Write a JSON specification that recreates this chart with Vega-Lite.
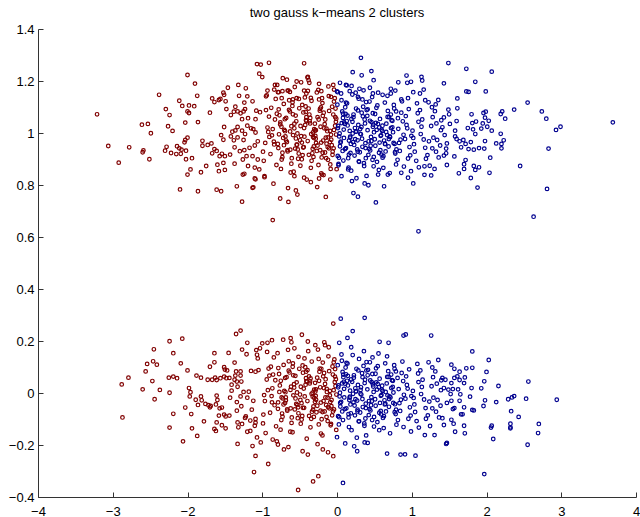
{
"$schema": "https://vega.github.io/schema/vega-lite/v6.json",
"width": 598, "height": 468,
"autosize": "none",
"padding": {"left": 38, "top": 29, "right": 4, "bottom": 20},
"background": "white",
"title": {"text": "two gauss k\u2212means 2 clusters", "font": "Liberation Sans", "fontSize": 13, "fontWeight": "normal", "color": "#000000", "offset": 3},
"config": {"view": {"stroke": null}},
"data": {"values": [
{"x":-3.21,"y":1.072,"cluster":1},{"x":-3.06,"y":0.95,"cluster":1},{"x":-2.92,"y":0.886,"cluster":1},{"x":-2.78,"y":0.945,"cluster":1},{"x":-2.59,"y":0.933,"cluster":1},{"x":-2.6,"y":0.926,"cluster":1},{"x":-2.61,"y":1.032,"cluster":1},{"x":-2.53,"y":1.035,"cluster":1},{"x":-2.49,"y":0.999,"cluster":1},{"x":-2.51,"y":0.899,"cluster":1},{"x":-2.38,"y":1.147,"cluster":1},{"x":-2.29,"y":1.092,"cluster":1},{"x":-2.24,"y":1.069,"cluster":1},{"x":-2.26,"y":1.026,"cluster":1},{"x":-2.2,"y":1.008,"cluster":1},{"x":-2.28,"y":0.947,"cluster":1},{"x":-2.3,"y":0.932,"cluster":1},{"x":-2.22,"y":0.923,"cluster":1},{"x":-2.1,"y":0.783,"cluster":1},{"x":-2.0,"y":1.223,"cluster":1},{"x":-1.9,"y":1.19,"cluster":1},{"x":-1.87,"y":1.143,"cluster":1},{"x":-2.11,"y":1.124,"cluster":1},{"x":-2.07,"y":1.104,"cluster":1},{"x":-1.98,"y":1.106,"cluster":1},{"x":-1.91,"y":1.103,"cluster":1},{"x":-2.0,"y":1.083,"cluster":1},{"x":-1.98,"y":1.077,"cluster":1},{"x":-1.86,"y":1.042,"cluster":1},{"x":-2.03,"y":1.04,"cluster":1},{"x":-2.0,"y":0.982,"cluster":1},{"x":-2.03,"y":0.973,"cluster":1},{"x":-2.04,"y":0.964,"cluster":1},{"x":-2.14,"y":0.949,"cluster":1},{"x":-2.11,"y":0.941,"cluster":1},{"x":-2.08,"y":0.936,"cluster":1},{"x":-2.15,"y":0.919,"cluster":1},{"x":-2.09,"y":0.92,"cluster":1},{"x":-2.02,"y":0.932,"cluster":1},{"x":-2.02,"y":0.899,"cluster":1},{"x":-1.94,"y":0.903,"cluster":1},{"x":-1.96,"y":0.86,"cluster":1},{"x":-2.0,"y":0.84,"cluster":1},{"x":-1.86,"y":0.776,"cluster":1},{"x":-1.82,"y":0.849,"cluster":1},{"x":-1.75,"y":0.873,"cluster":1},{"x":-1.7,"y":1.078,"cluster":1},{"x":-1.67,"y":1.133,"cluster":1},{"x":-1.64,"y":1.119,"cluster":1},{"x":-1.58,"y":1.127,"cluster":1},{"x":-1.56,"y":1.131,"cluster":1},{"x":-1.49,"y":1.122,"cluster":1},{"x":-1.52,"y":1.155,"cluster":1},{"x":-1.51,"y":1.147,"cluster":1},{"x":-1.46,"y":1.174,"cluster":1},{"x":-1.32,"y":1.185,"cluster":1},{"x":-1.22,"y":1.172,"cluster":1},{"x":-1.31,"y":1.143,"cluster":1},{"x":-1.2,"y":1.141,"cluster":1},{"x":-1.07,"y":1.265,"cluster":1},{"x":-1.02,"y":1.263,"cluster":1},{"x":-1.04,"y":1.228,"cluster":1},{"x":-1.24,"y":1.117,"cluster":1},{"x":-1.13,"y":1.122,"cluster":1},{"x":-1.8,"y":0.97,"cluster":1},{"x":-1.8,"y":0.951,"cluster":1},{"x":-1.73,"y":0.954,"cluster":1},{"x":-1.68,"y":0.96,"cluster":1},{"x":-1.64,"y":0.938,"cluster":1},{"x":-1.67,"y":0.922,"cluster":1},{"x":-1.61,"y":0.931,"cluster":1},{"x":-1.54,"y":0.92,"cluster":1},{"x":-1.57,"y":0.911,"cluster":1},{"x":-1.5,"y":0.911,"cluster":1},{"x":-1.43,"y":0.917,"cluster":1},{"x":-1.52,"y":0.885,"cluster":1},{"x":-1.6,"y":0.878,"cluster":1},{"x":-1.58,"y":0.853,"cluster":1},{"x":-1.5,"y":0.858,"cluster":1},{"x":-1.37,"y":0.882,"cluster":1},{"x":-1.61,"y":0.782,"cluster":1},{"x":-1.55,"y":0.776,"cluster":1},{"x":-1.34,"y":0.795,"cluster":1},{"x":-1.27,"y":0.736,"cluster":1},{"x":-1.12,"y":0.791,"cluster":1},{"x":-1.24,"y":0.843,"cluster":1},{"x":-1.09,"y":0.822,"cluster":1},{"x":-1.51,"y":1.023,"cluster":1},{"x":-1.55,"y":0.992,"cluster":1},{"x":-1.52,"y":0.974,"cluster":1},{"x":-0.86,"y":0.665,"cluster":1},
{"x":-1.42,"y":0.987,"cluster":1},{"x":-1.4,"y":1.005,"cluster":1},{"x":-1.36,"y":1.01,"cluster":1},{"x":-1.33,"y":1.023,"cluster":1},{"x":-1.38,"y":0.972,"cluster":1},{"x":-1.33,"y":0.983,"cluster":1},{"x":-1.27,"y":1.009,"cluster":1},{"x":-1.23,"y":0.996,"cluster":1},{"x":-1.25,"y":0.973,"cluster":1},{"x":-1.2,"y":1.028,"cluster":1},{"x":-1.15,"y":1.018,"cluster":1},{"x":-1.12,"y":1.015,"cluster":1},{"x":-1.09,"y":1.002,"cluster":1},{"x":-1.19,"y":1.057,"cluster":1},{"x":-1.27,"y":1.053,"cluster":1},{"x":-1.25,"y":1.083,"cluster":1},{"x":-1.09,"y":1.053,"cluster":1},{"x":-1.48,"y":1.092,"cluster":1},{"x":-1.36,"y":1.101,"cluster":1},{"x":-1.33,"y":1.083,"cluster":1},{"x":-1.29,"y":1.076,"cluster":1},{"x":-1.42,"y":1.069,"cluster":1},{"x":-1.38,"y":1.082,"cluster":1},{"x":-1.23,"y":1.092,"cluster":1},{"x":-1.08,"y":1.086,"cluster":1},{"x":-1.03,"y":1.08,"cluster":1},{"x":-1.37,"y":0.945,"cluster":1},{"x":-1.3,"y":0.93,"cluster":1},{"x":-1.24,"y":0.934,"cluster":1},{"x":-1.17,"y":0.943,"cluster":1},{"x":-1.1,"y":0.952,"cluster":1},{"x":-1.06,"y":0.968,"cluster":1},{"x":-1.21,"y":0.911,"cluster":1},{"x":-1.26,"y":0.898,"cluster":1},{"x":-1.13,"y":0.911,"cluster":1},{"x":-1.19,"y":0.873,"cluster":1},{"x":-1.1,"y":0.867,"cluster":1},{"x":-1.06,"y":0.898,"cluster":1},{"x":-1.04,"y":0.86,"cluster":1},{"x":-1.26,"y":0.84,"cluster":1},
{"x":-0.91,"y":1.27,"cluster":1},{"x":-1.0,"y":1.215,"cluster":1},{"x":-0.67,"y":1.205,"cluster":1},{"x":-0.54,"y":1.198,"cluster":1},{"x":-0.48,"y":1.195,"cluster":1},{"x":-0.44,"y":1.268,"cluster":1},{"x":-0.39,"y":1.216,"cluster":1},{"x":-0.38,"y":1.203,"cluster":1},{"x":-0.37,"y":1.193,"cluster":1},{"x":-0.24,"y":1.189,"cluster":1},{"x":-0.05,"y":1.185,"cluster":1},{"x":-0.04,"y":1.167,"cluster":1},{"x":-0.93,"y":1.163,"cluster":1},{"x":-0.95,"y":1.141,"cluster":1},{"x":-0.83,"y":1.185,"cluster":1},{"x":-0.8,"y":1.185,"cluster":1},{"x":-0.84,"y":1.167,"cluster":1},{"x":-0.78,"y":1.157,"cluster":1},{"x":-0.73,"y":1.161,"cluster":1},{"x":-0.66,"y":1.163,"cluster":1},{"x":-0.63,"y":1.158,"cluster":1},{"x":-0.74,"y":1.134,"cluster":1},{"x":-0.59,"y":1.129,"cluster":1},{"x":-0.54,"y":1.134,"cluster":1},{"x":-0.44,"y":1.163,"cluster":1},{"x":-0.41,"y":1.152,"cluster":1},{"x":-0.35,"y":1.135,"cluster":1},{"x":-0.27,"y":1.156,"cluster":1},{"x":-0.21,"y":1.161,"cluster":1},{"x":-0.2,"y":1.134,"cluster":1},{"x":-0.08,"y":1.139,"cluster":1},
{"x":-0.76,"y":0.748,"cluster":1},{"x":-0.65,"y":0.735,"cluster":1},{"x":-0.55,"y":0.779,"cluster":1},{"x":-0.53,"y":0.763,"cluster":1},{"x":-0.15,"y":0.754,"cluster":1},{"x":-0.57,"y":0.834,"cluster":1},{"x":-0.44,"y":0.828,"cluster":1},{"x":-0.35,"y":0.811,"cluster":1},{"x":-0.24,"y":0.825,"cluster":1},{"x":-0.2,"y":0.84,"cluster":1},{"x":-0.09,"y":0.821,"cluster":1},{"x":-1.1,"y":0.825,"cluster":1},{"x":-0.97,"y":0.83,"cluster":1},{"x":-1.13,"y":0.789,"cluster":1},
{"x":-0.93,"y":1.021,"cluster":1},{"x":-0.98,"y":0.893,"cluster":1},{"x":-0.91,"y":1.063,"cluster":1},{"x":-0.96,"y":0.962,"cluster":1},{"x":-0.94,"y":1.145,"cluster":1},{"x":-0.99,"y":0.928,"cluster":1},{"x":-0.92,"y":1.004,"cluster":1},{"x":-0.97,"y":0.834,"cluster":1},{"x":-0.95,"y":1.088,"cluster":1},{"x":-0.905,"y":0.985,"cluster":1},
{"x":-0.84,"y":0.956,"cluster":1},{"x":-0.88,"y":1.097,"cluster":1},{"x":-0.81,"y":0.877,"cluster":1},{"x":-0.86,"y":1.015,"cluster":1},{"x":-0.83,"y":1.052,"cluster":1},{"x":-0.89,"y":0.919,"cluster":1},{"x":-0.82,"y":1.131,"cluster":1},{"x":-0.87,"y":0.991,"cluster":1},{"x":-0.85,"y":0.805,"cluster":1},{"x":-0.805,"y":1.074,"cluster":1},{"x":-0.845,"y":0.967,"cluster":1},
{"x":-0.77,"y":1.068,"cluster":1},{"x":-0.72,"y":0.981,"cluster":1},{"x":-0.79,"y":1.157,"cluster":1},{"x":-0.74,"y":0.898,"cluster":1},{"x":-0.71,"y":0.953,"cluster":1},{"x":-0.76,"y":1.033,"cluster":1},{"x":-0.73,"y":0.924,"cluster":1},{"x":-0.78,"y":1.091,"cluster":1},{"x":-0.705,"y":1.012,"cluster":1},{"x":-0.75,"y":0.862,"cluster":1},{"x":-0.725,"y":1.211,"cluster":1},{"x":-0.785,"y":0.942,"cluster":1},
{"x":-0.66,"y":0.929,"cluster":1},{"x":-0.61,"y":1.026,"cluster":1},{"x":-0.69,"y":0.987,"cluster":1},{"x":-0.64,"y":1.126,"cluster":1},{"x":-0.62,"y":0.848,"cluster":1},{"x":-0.68,"y":1.058,"cluster":1},{"x":-0.63,"y":1.083,"cluster":1},{"x":-0.67,"y":0.965,"cluster":1},{"x":-0.605,"y":0.903,"cluster":1},{"x":-0.65,"y":1.163,"cluster":1},{"x":-0.695,"y":1.007,"cluster":1},{"x":-0.625,"y":0.936,"cluster":1},{"x":-0.655,"y":0.788,"cluster":1},
{"x":-0.57,"y":1.036,"cluster":1},{"x":-0.52,"y":0.901,"cluster":1},{"x":-0.59,"y":1.072,"cluster":1},{"x":-0.54,"y":0.955,"cluster":1},{"x":-0.51,"y":1.131,"cluster":1},{"x":-0.56,"y":0.94,"cluster":1},{"x":-0.53,"y":0.998,"cluster":1},{"x":-0.58,"y":0.851,"cluster":1},{"x":-0.505,"y":1.095,"cluster":1},{"x":-0.55,"y":0.979,"cluster":1},{"x":-0.595,"y":1.118,"cluster":1},{"x":-0.525,"y":0.937,"cluster":1},{"x":-0.565,"y":1.177,"cluster":1},{"x":-0.545,"y":1.045,"cluster":1},
{"x":-0.47,"y":0.963,"cluster":1},{"x":-0.42,"y":1.102,"cluster":1},{"x":-0.49,"y":0.874,"cluster":1},{"x":-0.44,"y":1.019,"cluster":1},{"x":-0.41,"y":1.061,"cluster":1},{"x":-0.46,"y":0.915,"cluster":1},{"x":-0.43,"y":1.137,"cluster":1},{"x":-0.48,"y":0.988,"cluster":1},{"x":-0.405,"y":0.821,"cluster":1},{"x":-0.45,"y":1.079,"cluster":1},{"x":-0.495,"y":0.972,"cluster":1},{"x":-0.425,"y":1.031,"cluster":1},{"x":-0.465,"y":1.108,"cluster":1},{"x":-0.445,"y":0.946,"cluster":1},{"x":-0.415,"y":1.049,"cluster":1},
{"x":-0.37,"y":1.071,"cluster":1},{"x":-0.32,"y":0.985,"cluster":1},{"x":-0.39,"y":1.162,"cluster":1},{"x":-0.34,"y":0.893,"cluster":1},{"x":-0.31,"y":0.948,"cluster":1},{"x":-0.36,"y":1.037,"cluster":1},{"x":-0.33,"y":0.922,"cluster":1},{"x":-0.38,"y":1.094,"cluster":1},{"x":-0.305,"y":1.015,"cluster":1},{"x":-0.35,"y":0.866,"cluster":1},{"x":-0.395,"y":1.213,"cluster":1},{"x":-0.325,"y":0.939,"cluster":1},{"x":-0.365,"y":1.045,"cluster":1},{"x":-0.345,"y":0.996,"cluster":1},{"x":-0.315,"y":0.908,"cluster":1},
{"x":-0.27,"y":0.931,"cluster":1},{"x":-0.22,"y":1.024,"cluster":1},{"x":-0.29,"y":0.989,"cluster":1},{"x":-0.24,"y":1.129,"cluster":1},{"x":-0.21,"y":0.845,"cluster":1},{"x":-0.26,"y":1.061,"cluster":1},{"x":-0.23,"y":1.086,"cluster":1},{"x":-0.28,"y":0.962,"cluster":1},{"x":-0.205,"y":0.906,"cluster":1},{"x":-0.25,"y":1.166,"cluster":1},{"x":-0.295,"y":1.009,"cluster":1},{"x":-0.225,"y":0.934,"cluster":1},{"x":-0.265,"y":0.792,"cluster":1},{"x":-0.245,"y":1.052,"cluster":1},{"x":-0.215,"y":1.098,"cluster":1},{"x":-0.285,"y":0.978,"cluster":1},
{"x":-0.17,"y":1.018,"cluster":1},{"x":-0.12,"y":0.897,"cluster":1},{"x":-0.19,"y":1.066,"cluster":1},{"x":-0.14,"y":0.959,"cluster":1},{"x":-0.11,"y":1.142,"cluster":1},{"x":-0.16,"y":0.925,"cluster":1},{"x":-0.13,"y":1.007,"cluster":1},{"x":-0.18,"y":0.838,"cluster":1},{"x":-0.105,"y":1.085,"cluster":1},{"x":-0.15,"y":0.982,"cluster":1},{"x":-0.195,"y":1.115,"cluster":1},{"x":-0.125,"y":0.946,"cluster":1},{"x":-0.165,"y":1.034,"cluster":1},{"x":-0.145,"y":0.903,"cluster":1},{"x":-0.115,"y":1.179,"cluster":1},{"x":-0.185,"y":0.971,"cluster":1},
{"x":-0.07,"y":0.953,"cluster":1},{"x":-0.02,"y":1.094,"cluster":1},{"x":-0.09,"y":0.879,"cluster":1},{"x":-0.04,"y":1.012,"cluster":1},{"x":-0.01,"y":1.055,"cluster":1},{"x":-0.06,"y":0.916,"cluster":1},{"x":-0.03,"y":1.134,"cluster":1},{"x":-0.08,"y":0.993,"cluster":1},{"x":-0.005,"y":0.861,"cluster":1},{"x":-0.05,"y":1.071,"cluster":1},{"x":-0.095,"y":0.965,"cluster":1},{"x":-0.025,"y":1.028,"cluster":1},{"x":-0.065,"y":1.101,"cluster":1},{"x":-0.045,"y":0.941,"cluster":1},{"x":-0.015,"y":1.043,"cluster":1},{"x":-0.085,"y":0.862,"cluster":1},
{"x":-0.792,"y":0.958,"cluster":1},{"x":-0.758,"y":1.041,"cluster":1},{"x":-0.731,"y":0.907,"cluster":1},{"x":-0.712,"y":1.112,"cluster":1},{"x":-0.776,"y":0.995,"cluster":1},{"x":-0.744,"y":1.024,"cluster":1},
{"x":-0.698,"y":1.053,"cluster":1},{"x":-0.663,"y":0.934,"cluster":1},{"x":-0.627,"y":1.006,"cluster":1},{"x":-0.681,"y":0.971,"cluster":1},{"x":-0.642,"y":1.089,"cluster":1},{"x":-0.611,"y":0.882,"cluster":1},
{"x":-0.588,"y":0.992,"cluster":1},{"x":-0.553,"y":1.067,"cluster":1},{"x":-0.512,"y":0.921,"cluster":1},{"x":-0.571,"y":1.018,"cluster":1},{"x":-0.534,"y":0.955,"cluster":1},{"x":-0.597,"y":1.104,"cluster":1},
{"x":-0.488,"y":1.027,"cluster":1},{"x":-0.452,"y":0.944,"cluster":1},{"x":-0.418,"y":1.081,"cluster":1},{"x":-0.471,"y":0.899,"cluster":1},{"x":-0.436,"y":0.986,"cluster":1},{"x":-0.409,"y":1.046,"cluster":1},
{"x":-0.392,"y":0.969,"cluster":1},{"x":-0.358,"y":1.058,"cluster":1},{"x":-0.322,"y":1.002,"cluster":1},{"x":-0.377,"y":0.916,"cluster":1},{"x":-0.341,"y":1.124,"cluster":1},{"x":-0.309,"y":0.981,"cluster":1},
{"x":-0.296,"y":1.036,"cluster":1},{"x":-0.261,"y":0.952,"cluster":1},{"x":-0.227,"y":1.093,"cluster":1},{"x":-0.283,"y":1.011,"cluster":1},{"x":-0.248,"y":0.877,"cluster":1},{"x":-0.212,"y":0.963,"cluster":1},
{"x":-0.191,"y":0.924,"cluster":1},{"x":-0.157,"y":1.052,"cluster":1},{"x":-0.123,"y":0.983,"cluster":1},{"x":-0.178,"y":1.078,"cluster":1},{"x":-0.141,"y":1.017,"cluster":1},{"x":-0.108,"y":0.941,"cluster":1},
{"x":-0.092,"y":1.008,"cluster":1},{"x":-0.058,"y":0.929,"cluster":1},{"x":-0.023,"y":1.061,"cluster":1},{"x":-0.077,"y":0.974,"cluster":1},{"x":-0.041,"y":1.121,"cluster":1},{"x":-0.012,"y":0.994,"cluster":1},
{"x":0.012,"y":1.019,"cluster":2},{"x":0.047,"y":0.963,"cluster":2},{"x":0.081,"y":1.074,"cluster":2},{"x":0.026,"y":0.905,"cluster":2},{"x":0.063,"y":1.038,"cluster":2},{"x":0.093,"y":0.981,"cluster":2},
{"x":0.108,"y":0.938,"cluster":2},{"x":0.142,"y":1.029,"cluster":2},{"x":0.177,"y":0.986,"cluster":2},{"x":0.121,"y":1.117,"cluster":2},{"x":0.159,"y":0.917,"cluster":2},{"x":0.193,"y":1.054,"cluster":2},
{"x":0.207,"y":1.043,"cluster":2},{"x":0.243,"y":0.976,"cluster":2},{"x":0.278,"y":0.928,"cluster":2},{"x":0.221,"y":1.071,"cluster":2},{"x":0.259,"y":1.006,"cluster":2},{"x":0.292,"y":0.891,"cluster":2},
{"x":0.311,"y":0.997,"cluster":2},{"x":0.346,"y":1.064,"cluster":2},{"x":0.382,"y":0.942,"cluster":2},{"x":0.327,"y":1.023,"cluster":2},{"x":0.363,"y":0.873,"cluster":2},{"x":0.397,"y":1.088,"cluster":2},
{"x":0.409,"y":1.011,"cluster":2},{"x":0.444,"y":0.933,"cluster":2},{"x":0.479,"y":1.076,"cluster":2},{"x":0.423,"y":0.968,"cluster":2},{"x":0.461,"y":1.042,"cluster":2},{"x":0.492,"y":0.908,"cluster":2},
{"x":0.513,"y":0.951,"cluster":2},{"x":0.548,"y":1.035,"cluster":2},{"x":0.583,"y":0.989,"cluster":2},{"x":0.527,"y":1.097,"cluster":2},{"x":0.562,"y":0.924,"cluster":2},{"x":0.597,"y":1.013,"cluster":2},
{"x":0.608,"y":1.028,"cluster":2},{"x":0.642,"y":0.959,"cluster":2},{"x":0.677,"y":1.062,"cluster":2},{"x":0.621,"y":0.911,"cluster":2},{"x":0.658,"y":1.004,"cluster":2},{"x":0.694,"y":0.977,"cluster":2},
{"x":0.706,"y":0.987,"cluster":2},{"x":0.741,"y":1.047,"cluster":2},{"x":0.776,"y":0.926,"cluster":2},{"x":0.722,"y":1.019,"cluster":2},{"x":0.757,"y":0.962,"cluster":2},{"x":0.791,"y":1.083,"cluster":2},
{"x":0.03,"y":0.987,"cluster":2},{"x":0.08,"y":1.058,"cluster":2},{"x":0.01,"y":0.912,"cluster":2},{"x":0.06,"y":1.126,"cluster":2},{"x":0.09,"y":1.013,"cluster":2},{"x":0.04,"y":0.949,"cluster":2},{"x":0.07,"y":1.083,"cluster":2},{"x":0.02,"y":0.876,"cluster":2},{"x":0.095,"y":1.041,"cluster":2},{"x":0.05,"y":0.967,"cluster":2},{"x":0.005,"y":1.109,"cluster":2},{"x":0.075,"y":0.931,"cluster":2},{"x":0.035,"y":0.998,"cluster":2},{"x":0.055,"y":1.152,"cluster":2},{"x":0.085,"y":0.894,"cluster":2},{"x":0.015,"y":1.027,"cluster":2},
{"x":0.13,"y":1.046,"cluster":2},{"x":0.18,"y":0.923,"cluster":2},{"x":0.11,"y":1.099,"cluster":2},{"x":0.16,"y":0.971,"cluster":2},{"x":0.19,"y":0.855,"cluster":2},{"x":0.14,"y":1.067,"cluster":2},{"x":0.17,"y":1.008,"cluster":2},{"x":0.12,"y":0.942,"cluster":2},{"x":0.195,"y":1.181,"cluster":2},{"x":0.15,"y":0.903,"cluster":2},{"x":0.105,"y":1.035,"cluster":2},{"x":0.175,"y":0.982,"cluster":2},{"x":0.135,"y":1.114,"cluster":2},{"x":0.155,"y":0.867,"cluster":2},{"x":0.185,"y":0.958,"cluster":2},{"x":0.115,"y":1.073,"cluster":2},
{"x":0.23,"y":0.954,"cluster":2},{"x":0.28,"y":1.087,"cluster":2},{"x":0.21,"y":0.998,"cluster":2},{"x":0.26,"y":0.826,"cluster":2},{"x":0.29,"y":1.132,"cluster":2},{"x":0.24,"y":1.019,"cluster":2},{"x":0.27,"y":0.937,"cluster":2},{"x":0.22,"y":1.061,"cluster":2},{"x":0.295,"y":0.889,"cluster":2},{"x":0.25,"y":1.005,"cluster":2},{"x":0.205,"y":1.148,"cluster":2},{"x":0.275,"y":0.972,"cluster":2},{"x":0.235,"y":0.913,"cluster":2},{"x":0.255,"y":1.094,"cluster":2},{"x":0.285,"y":1.031,"cluster":2},{"x":0.215,"y":0.965,"cluster":2},
{"x":0.33,"y":1.078,"cluster":2},{"x":0.38,"y":0.961,"cluster":2},{"x":0.31,"y":1.015,"cluster":2},{"x":0.36,"y":0.884,"cluster":2},{"x":0.39,"y":1.119,"cluster":2},{"x":0.34,"y":0.947,"cluster":2},{"x":0.37,"y":1.052,"cluster":2},{"x":0.32,"y":0.995,"cluster":2},{"x":0.395,"y":0.835,"cluster":2},{"x":0.35,"y":1.101,"cluster":2},{"x":0.305,"y":0.926,"cluster":2},{"x":0.375,"y":1.037,"cluster":2},{"x":0.335,"y":0.978,"cluster":2},{"x":0.355,"y":1.164,"cluster":2},{"x":0.385,"y":0.903,"cluster":2},
{"x":0.43,"y":0.939,"cluster":2},{"x":0.48,"y":1.024,"cluster":2},{"x":0.41,"y":1.091,"cluster":2},{"x":0.46,"y":0.969,"cluster":2},{"x":0.49,"y":0.872,"cluster":2},{"x":0.44,"y":1.047,"cluster":2},{"x":0.47,"y":1.138,"cluster":2},{"x":0.42,"y":0.916,"cluster":2},{"x":0.495,"y":1.003,"cluster":2},{"x":0.45,"y":0.951,"cluster":2},{"x":0.405,"y":1.066,"cluster":2},{"x":0.475,"y":0.897,"cluster":2},{"x":0.435,"y":1.121,"cluster":2},{"x":0.455,"y":0.985,"cluster":2},{"x":0.485,"y":1.032,"cluster":2},
{"x":0.53,"y":1.012,"cluster":2},{"x":0.58,"y":0.934,"cluster":2},{"x":0.51,"y":1.073,"cluster":2},{"x":0.56,"y":0.858,"cluster":2},{"x":0.59,"y":0.991,"cluster":2},{"x":0.54,"y":1.106,"cluster":2},{"x":0.57,"y":0.963,"cluster":2},{"x":0.52,"y":1.039,"cluster":2},{"x":0.595,"y":0.917,"cluster":2},{"x":0.55,"y":1.155,"cluster":2},{"x":0.505,"y":0.976,"cluster":2},{"x":0.575,"y":1.054,"cluster":2},{"x":0.535,"y":0.889,"cluster":2},{"x":0.565,"y":1.021,"cluster":2},
{"x":0.63,"y":0.971,"cluster":2},{"x":0.68,"y":1.085,"cluster":2},{"x":0.61,"y":0.905,"cluster":2},{"x":0.66,"y":1.036,"cluster":2},{"x":0.69,"y":0.948,"cluster":2},{"x":0.64,"y":1.117,"cluster":2},{"x":0.67,"y":0.992,"cluster":2},{"x":0.62,"y":0.866,"cluster":2},{"x":0.695,"y":1.061,"cluster":2},{"x":0.65,"y":0.929,"cluster":2},{"x":0.605,"y":1.008,"cluster":2},{"x":0.675,"y":1.143,"cluster":2},{"x":0.645,"y":0.957,"cluster":2},
{"x":0.73,"y":1.049,"cluster":2},{"x":0.78,"y":0.921,"cluster":2},{"x":0.71,"y":0.984,"cluster":2},{"x":0.76,"y":1.108,"cluster":2},{"x":0.79,"y":0.879,"cluster":2},{"x":0.74,"y":1.022,"cluster":2},{"x":0.77,"y":0.958,"cluster":2},{"x":0.72,"y":1.071,"cluster":2},{"x":0.795,"y":0.937,"cluster":2},{"x":0.75,"y":1.003,"cluster":2},{"x":0.705,"y":0.846,"cluster":2},{"x":0.765,"y":1.094,"cluster":2},
{"x":0.83,"y":0.962,"cluster":2},{"x":0.88,"y":1.045,"cluster":2},{"x":0.81,"y":0.897,"cluster":2},{"x":0.86,"y":1.078,"cluster":2},{"x":0.89,"y":0.993,"cluster":2},{"x":0.84,"y":0.931,"cluster":2},{"x":0.87,"y":1.122,"cluster":2},{"x":0.82,"y":1.016,"cluster":2},{"x":0.895,"y":0.871,"cluster":2},{"x":0.85,"y":0.974,"cluster":2},{"x":0.815,"y":1.057,"cluster":2},
{"x":0.93,"y":1.031,"cluster":2},{"x":0.98,"y":0.914,"cluster":2},{"x":0.91,"y":0.977,"cluster":2},{"x":0.96,"y":1.092,"cluster":2},{"x":0.99,"y":0.853,"cluster":2},{"x":0.94,"y":1.018,"cluster":2},{"x":0.97,"y":0.946,"cluster":2},{"x":0.92,"y":1.065,"cluster":2},{"x":0.995,"y":0.989,"cluster":2},{"x":0.95,"y":0.902,"cluster":2},
{"x":1.03,"y":0.957,"cluster":2},{"x":1.08,"y":1.076,"cluster":2},{"x":1.01,"y":1.009,"cluster":2},{"x":1.06,"y":0.893,"cluster":2},{"x":1.09,"y":1.043,"cluster":2},{"x":1.04,"y":0.928,"cluster":2},{"x":1.07,"y":1.114,"cluster":2},{"x":1.02,"y":0.981,"cluster":2},{"x":1.095,"y":0.868,"cluster":2},
{"x":1.13,"y":1.024,"cluster":2},{"x":1.18,"y":0.943,"cluster":2},{"x":1.11,"y":1.088,"cluster":2},{"x":1.16,"y":0.975,"cluster":2},{"x":1.19,"y":0.901,"cluster":2},{"x":1.14,"y":1.052,"cluster":2},{"x":1.17,"y":0.839,"cluster":2},{"x":1.12,"y":0.996,"cluster":2},
{"x":1.23,"y":0.968,"cluster":2},{"x":1.28,"y":1.061,"cluster":2},{"x":1.21,"y":0.915,"cluster":2},{"x":1.26,"y":1.027,"cluster":2},{"x":1.29,"y":0.982,"cluster":2},{"x":1.24,"y":0.874,"cluster":2},{"x":1.27,"y":1.099,"cluster":2},
{"x":1.33,"y":1.037,"cluster":2},{"x":1.38,"y":0.952,"cluster":2},{"x":1.31,"y":1.084,"cluster":2},{"x":1.36,"y":0.906,"cluster":2},{"x":1.39,"y":1.011,"cluster":2},{"x":1.34,"y":0.973,"cluster":2},
{"x":1.225,"y":1.118,"cluster":2},{"x":1.305,"y":0.862,"cluster":2},{"x":1.355,"y":1.127,"cluster":2},{"x":1.275,"y":0.941,"cluster":2},{"x":1.395,"y":1.049,"cluster":2},{"x":1.325,"y":0.928,"cluster":2},
{"x":1.49,"y":1.269,"cluster":2},{"x":1.73,"y":1.247,"cluster":2},{"x":2.07,"y":1.236,"cluster":2},{"x":1.43,"y":1.191,"cluster":2},{"x":1.85,"y":1.197,"cluster":2},{"x":1.73,"y":1.16,"cluster":2},{"x":1.76,"y":1.158,"cluster":2},{"x":1.99,"y":1.16,"cluster":2},{"x":1.61,"y":1.133,"cluster":2},{"x":2.55,"y":1.117,"cluster":2},{"x":2.37,"y":1.09,"cluster":2},{"x":2.74,"y":1.083,"cluster":2},{"x":2.8,"y":1.055,"cluster":2},{"x":2.93,"y":1.012,"cluster":2},{"x":2.99,"y":1.024,"cluster":2},{"x":3.69,"y":1.041,"cluster":2},{"x":2.83,"y":0.94,"cluster":2},{"x":2.45,"y":0.873,"cluster":2},{"x":2.81,"y":0.785,"cluster":2},{"x":2.63,"y":0.678,"cluster":2},
{"x":1.49,"y":1.09,"cluster":2},{"x":1.61,"y":1.095,"cluster":2},{"x":1.5,"y":1.072,"cluster":2},{"x":1.8,"y":1.072,"cluster":2},{"x":1.96,"y":1.077,"cluster":2},{"x":1.99,"y":1.082,"cluster":2},{"x":1.98,"y":1.059,"cluster":2},{"x":2.21,"y":1.083,"cluster":2},{"x":2.19,"y":1.073,"cluster":2},{"x":2.25,"y":1.055,"cluster":2},{"x":2.03,"y":1.047,"cluster":2},{"x":1.86,"y":1.044,"cluster":2},{"x":1.81,"y":1.038,"cluster":2},{"x":1.95,"y":1.037,"cluster":2},{"x":2.01,"y":1.024,"cluster":2},{"x":1.6,"y":1.046,"cluster":2},{"x":1.43,"y":1.06,"cluster":2},{"x":1.51,"y":1.035,"cluster":2},{"x":1.41,"y":1.022,"cluster":2},{"x":1.75,"y":1.019,"cluster":2},{"x":1.82,"y":1.014,"cluster":2},{"x":1.93,"y":1.017,"cluster":2},{"x":2.07,"y":1.009,"cluster":2},{"x":1.85,"y":0.996,"cluster":2},{"x":1.58,"y":1.009,"cluster":2},{"x":1.44,"y":0.992,"cluster":2},{"x":1.58,"y":0.987,"cluster":2},{"x":1.6,"y":0.977,"cluster":2},{"x":1.69,"y":0.973,"cluster":2},{"x":1.64,"y":0.968,"cluster":2},{"x":1.72,"y":0.958,"cluster":2},{"x":1.79,"y":0.965,"cluster":2},{"x":1.98,"y":0.969,"cluster":2},{"x":2.19,"y":0.997,"cluster":2},{"x":2.23,"y":0.972,"cluster":2},{"x":2.13,"y":0.96,"cluster":2},{"x":2.2,"y":0.958,"cluster":2},{"x":2.2,"y":0.941,"cluster":2},{"x":1.97,"y":0.94,"cluster":2},{"x":1.9,"y":0.942,"cluster":2},{"x":1.83,"y":0.936,"cluster":2},{"x":1.76,"y":0.938,"cluster":2},{"x":1.66,"y":0.945,"cluster":2},{"x":1.47,"y":0.96,"cluster":2},{"x":1.46,"y":0.94,"cluster":2},{"x":1.46,"y":0.922,"cluster":2},{"x":1.43,"y":0.913,"cluster":2},{"x":1.57,"y":0.91,"cluster":2},{"x":2.05,"y":0.905,"cluster":2},{"x":1.72,"y":0.896,"cluster":2},{"x":1.7,"y":0.88,"cluster":2},{"x":1.7,"y":0.862,"cluster":2},{"x":1.83,"y":0.873,"cluster":2},{"x":1.9,"y":0.868,"cluster":2},{"x":1.85,"y":0.858,"cluster":2},{"x":1.63,"y":0.845,"cluster":2},{"x":1.79,"y":0.827,"cluster":2},{"x":2.04,"y":0.847,"cluster":2},{"x":1.88,"y":0.79,"cluster":2},{"x":1.47,"y":0.877,"cluster":2},
{"x":0.22,"y":0.769,"cluster":2},{"x":0.28,"y":0.755,"cluster":2},{"x":0.52,"y":0.733,"cluster":2},{"x":1.09,"y":0.622,"cluster":2},
{"x":0.32,"y":1.289,"cluster":2},{"x":0.21,"y":1.234,"cluster":2},{"x":0.33,"y":1.222,"cluster":2},{"x":0.46,"y":1.238,"cluster":2},{"x":0.49,"y":1.203,"cluster":2},{"x":0.04,"y":1.193,"cluster":2},{"x":0.12,"y":1.185,"cluster":2},{"x":0.13,"y":1.183,"cluster":2},{"x":0.0,"y":1.16,"cluster":2},{"x":0.01,"y":1.157,"cluster":2},{"x":0.17,"y":1.161,"cluster":2},{"x":0.25,"y":1.155,"cluster":2},{"x":0.3,"y":1.17,"cluster":2},{"x":0.28,"y":1.139,"cluster":2},{"x":0.34,"y":1.129,"cluster":2},{"x":0.44,"y":1.174,"cluster":2},{"x":0.48,"y":1.152,"cluster":2},{"x":0.61,"y":1.147,"cluster":2},{"x":0.72,"y":1.17,"cluster":2},{"x":0.78,"y":1.163,"cluster":2},{"x":0.72,"y":1.152,"cluster":2},{"x":0.82,"y":1.195,"cluster":2},{"x":0.93,"y":1.221,"cluster":2},{"x":0.94,"y":1.193,"cluster":2},{"x":0.99,"y":1.197,"cluster":2},{"x":1.13,"y":1.216,"cluster":2},{"x":1.14,"y":1.202,"cluster":2},{"x":1.16,"y":1.167,"cluster":2},{"x":1.02,"y":1.157,"cluster":2},{"x":1.11,"y":1.152,"cluster":2},{"x":0.95,"y":1.134,"cluster":2},{"x":0.86,"y":1.129,"cluster":2},{"x":1.18,"y":1.126,"cluster":2},{"x":1.32,"y":1.11,"cluster":2},
{"x":0.63,"y":0.795,"cluster":2},{"x":1.02,"y":0.806,"cluster":2},{"x":0.42,"y":0.799,"cluster":2},{"x":0.37,"y":0.806,"cluster":2},{"x":0.2,"y":0.815,"cluster":2},{"x":0.06,"y":0.834,"cluster":2},{"x":0.02,"y":0.881,"cluster":2},{"x":0.15,"y":0.86,"cluster":2},{"x":0.55,"y":0.84,"cluster":2},{"x":0.68,"y":0.84,"cluster":2},{"x":0.86,"y":0.847,"cluster":2},{"x":0.95,"y":0.828,"cluster":2},{"x":1.17,"y":0.872,"cluster":2},{"x":1.26,"y":0.837,"cluster":2},
{"x":-2.88,"y":0.033,"cluster":1},{"x":-2.87,"y":-0.094,"cluster":1},{"x":-2.79,"y":0.059,"cluster":1},{"x":-2.6,"y":0.014,"cluster":1},{"x":-2.56,"y":0.083,"cluster":1},{"x":-2.54,"y":0.112,"cluster":1},{"x":-2.46,"y":0.122,"cluster":1},{"x":-2.41,"y":0.109,"cluster":1},{"x":-2.45,"y":0.168,"cluster":1},{"x":-2.47,"y":0.046,"cluster":1},{"x":-2.44,"y":-0.024,"cluster":1},{"x":-2.37,"y":0.012,"cluster":1},{"x":-2.24,"y":0.001,"cluster":1},{"x":-2.25,"y":0.059,"cluster":1},{"x":-2.19,"y":0.063,"cluster":1},{"x":-2.14,"y":0.057,"cluster":1},{"x":-2.24,"y":0.199,"cluster":1},{"x":-2.07,"y":0.209,"cluster":1},{"x":-2.19,"y":0.153,"cluster":1},{"x":-2.09,"y":0.114,"cluster":1},{"x":-2.0,"y":0.087,"cluster":1},{"x":-2.19,"y":-0.08,"cluster":1},{"x":-2.24,"y":-0.133,"cluster":1},{"x":-2.06,"y":-0.186,"cluster":1},{"x":-2.03,"y":-0.056,"cluster":1},{"x":-1.95,"y":-0.081,"cluster":1},{"x":-1.94,"y":-0.136,"cluster":1},{"x":-1.87,"y":-0.165,"cluster":1},{"x":-1.78,"y":-0.109,"cluster":1},{"x":-1.98,"y":0.019,"cluster":1},{"x":-1.96,"y":0.003,"cluster":1},{"x":-1.97,"y":-0.013,"cluster":1},{"x":-1.89,"y":-0.026,"cluster":1},{"x":-1.82,"y":-0.013,"cluster":1},{"x":-1.86,"y":-0.046,"cluster":1},{"x":-1.81,"y":-0.028,"cluster":1},{"x":-1.76,"y":-0.042,"cluster":1},{"x":-1.69,"y":-0.05,"cluster":1},{"x":-1.72,"y":-0.047,"cluster":1},{"x":-1.7,"y":-0.055,"cluster":1},{"x":-1.88,"y":0.067,"cluster":1},{"x":-1.82,"y":0.059,"cluster":1},{"x":-1.73,"y":0.051,"cluster":1},{"x":-1.67,"y":0.051,"cluster":1},{"x":-1.63,"y":0.059,"cluster":1},{"x":-1.56,"y":0.057,"cluster":1},{"x":-1.61,"y":0.05,"cluster":1},{"x":-1.7,"y":0.101,"cluster":1},{"x":-1.64,"y":0.118,"cluster":1},{"x":-1.64,"y":0.153,"cluster":1},{"x":-1.45,"y":0.154,"cluster":1},{"x":-1.35,"y":0.227,"cluster":1},{"x":-1.29,"y":0.24,"cluster":1},{"x":-1.2,"y":0.193,"cluster":1},{"x":-1.27,"y":0.167,"cluster":1},{"x":-1.21,"y":0.149,"cluster":1},{"x":-1.61,"y":-0.01,"cluster":1},{"x":-1.6,"y":-0.027,"cluster":1},{"x":-1.62,"y":-0.044,"cluster":1},{"x":-1.57,"y":-0.059,"cluster":1},{"x":-1.54,"y":-0.056,"cluster":1},{"x":-1.58,"y":-0.087,"cluster":1},{"x":-1.51,"y":-0.083,"cluster":1},{"x":-1.49,"y":-0.09,"cluster":1},{"x":-1.44,"y":-0.087,"cluster":1},{"x":-1.61,"y":-0.113,"cluster":1},{"x":-1.54,"y":-0.124,"cluster":1},{"x":-1.49,"y":-0.136,"cluster":1},{"x":-1.64,"y":-0.138,"cluster":1},{"x":-1.62,"y":-0.146,"cluster":1},{"x":-1.51,"y":0.099,"cluster":1},{"x":-1.5,"y":0.09,"cluster":1},{"x":-1.47,"y":0.087,"cluster":1},{"x":-1.51,"y":0.063,"cluster":1},{"x":-1.48,"y":0.057,"cluster":1},{"x":-1.44,"y":0.058,"cluster":1},{"x":-1.37,"y":0.117,"cluster":1},{"x":-1.35,"y":0.083,"cluster":1},{"x":-1.29,"y":0.083,"cluster":1},{"x":-1.36,"y":0.067,"cluster":1},{"x":-1.29,"y":0.067,"cluster":1},{"x":-1.37,"y":0.051,"cluster":1},{"x":-1.34,"y":0.044,"cluster":1},{"x":-1.28,"y":0.044,"cluster":1},{"x":-1.41,"y":0.032,"cluster":1},{"x":-1.33,"y":0.024,"cluster":1},{"x":-1.41,"y":0.009,"cluster":1},{"x":-1.43,"y":-0.018,"cluster":1},{"x":-1.34,"y":-0.035,"cluster":1},{"x":-1.29,"y":-0.013,"cluster":1},{"x":-1.25,"y":0.004,"cluster":1},{"x":-1.28,"y":-0.051,"cluster":1},{"x":-1.34,"y":-0.068,"cluster":1},{"x":-1.23,"y":-0.096,"cluster":1},{"x":-1.33,"y":-0.113,"cluster":1},{"x":-1.32,"y":-0.132,"cluster":1},{"x":-1.27,"y":-0.119,"cluster":1},{"x":-1.16,"y":-0.106,"cluster":1},{"x":-1.22,"y":-0.09,"cluster":1},{"x":-1.14,"y":-0.064,"cluster":1},{"x":-1.09,"y":-0.1,"cluster":1},{"x":-1.09,"y":-0.114,"cluster":1},{"x":-1.1,"y":-0.126,"cluster":1},{"x":-1.33,"y":-0.196,"cluster":1},{"x":-1.07,"y":-0.171,"cluster":1},{"x":-1.02,"y":-0.19,"cluster":1},{"x":-1.09,"y":-0.242,"cluster":1},{"x":-1.11,"y":-0.304,"cluster":1},{"x":-1.13,"y":-0.204,"cluster":1},{"x":-1.16,"y":-0.146,"cluster":1},{"x":-1.2,"y":-0.149,"cluster":1},{"x":-1.12,"y":-0.03,"cluster":1},{"x":-1.18,"y":0.005,"cluster":1},{"x":-1.2,"y":-0.018,"cluster":1},{"x":-1.15,"y":0.085,"cluster":1},{"x":-1.09,"y":0.082,"cluster":1},{"x":-1.05,"y":0.088,"cluster":1},{"x":-1.06,"y":0.133,"cluster":1},{"x":-1.07,"y":0.147,"cluster":1},{"x":-1.08,"y":0.165,"cluster":1},{"x":-1.03,"y":0.172,"cluster":1},
{"x":-0.92,"y":-0.273,"cluster":1},{"x":-0.25,"y":-0.32,"cluster":1},{"x":-0.32,"y":-0.34,"cluster":1},{"x":-0.52,"y":-0.373,"cluster":1},{"x":-0.05,"y":0.267,"cluster":1},{"x":-0.47,"y":0.224,"cluster":1},{"x":-0.62,"y":0.211,"cluster":1},{"x":-0.61,"y":0.195,"cluster":1},{"x":-0.87,"y":0.203,"cluster":1},{"x":-0.93,"y":0.193,"cluster":1},{"x":-1.0,"y":0.191,"cluster":1},{"x":-0.29,"y":0.184,"cluster":1},{"x":-0.17,"y":0.195,"cluster":1},{"x":-0.16,"y":0.184,"cluster":1},{"x":-0.05,"y":-0.243,"cluster":1},{"x":-0.19,"y":-0.217,"cluster":1},{"x":-0.12,"y":-0.228,"cluster":1},{"x":-0.46,"y":-0.224,"cluster":1},{"x":-0.39,"y":-0.237,"cluster":1},{"x":-0.86,"y":-0.179,"cluster":1},{"x":-0.79,"y":-0.198,"cluster":1},{"x":-0.71,"y":-0.217,"cluster":1},
{"x":-0.94,"y":0.052,"cluster":1},{"x":-0.99,"y":-0.117,"cluster":1},{"x":-0.915,"y":0.094,"cluster":1},{"x":-0.965,"y":-0.031,"cluster":1},{"x":-0.935,"y":0.158,"cluster":1},{"x":-0.985,"y":-0.083,"cluster":1},{"x":-0.925,"y":0.011,"cluster":1},{"x":-0.955,"y":-0.154,"cluster":1},{"x":-0.905,"y":0.067,"cluster":1},{"x":-0.975,"y":-0.008,"cluster":1},
{"x":-0.835,"y":-0.047,"cluster":1},{"x":-0.885,"y":0.101,"cluster":1},{"x":-0.815,"y":-0.128,"cluster":1},{"x":-0.865,"y":0.018,"cluster":1},{"x":-0.825,"y":0.049,"cluster":1},{"x":-0.895,"y":-0.076,"cluster":1},{"x":-0.845,"y":0.137,"cluster":1},{"x":-0.875,"y":-0.012,"cluster":1},{"x":-0.805,"y":-0.186,"cluster":1},{"x":-0.855,"y":0.071,"cluster":1},{"x":-0.87,"y":-0.036,"cluster":1},
{"x":-0.775,"y":0.073,"cluster":1},{"x":-0.725,"y":-0.021,"cluster":1},{"x":-0.795,"y":0.153,"cluster":1},{"x":-0.745,"y":-0.104,"cluster":1},{"x":-0.715,"y":-0.044,"cluster":1},{"x":-0.765,"y":0.029,"cluster":1},{"x":-0.735,"y":-0.079,"cluster":1},{"x":-0.785,"y":0.096,"cluster":1},{"x":-0.705,"y":0.008,"cluster":1},{"x":-0.755,"y":-0.141,"cluster":1},{"x":-0.72,"y":0.205,"cluster":1},{"x":-0.79,"y":-0.061,"cluster":1},
{"x":-0.665,"y":-0.068,"cluster":1},{"x":-0.615,"y":0.024,"cluster":1},{"x":-0.685,"y":-0.017,"cluster":1},{"x":-0.645,"y":0.122,"cluster":1},{"x":-0.625,"y":-0.149,"cluster":1},{"x":-0.675,"y":0.061,"cluster":1},{"x":-0.635,"y":0.079,"cluster":1},{"x":-0.695,"y":-0.038,"cluster":1},{"x":-0.605,"y":-0.094,"cluster":1},{"x":-0.655,"y":0.166,"cluster":1},{"x":-0.69,"y":0.003,"cluster":1},{"x":-0.62,"y":-0.059,"cluster":1},{"x":-0.65,"y":-0.208,"cluster":1},
{"x":-0.575,"y":0.034,"cluster":1},{"x":-0.525,"y":-0.097,"cluster":1},{"x":-0.585,"y":0.068,"cluster":1},{"x":-0.545,"y":-0.042,"cluster":1},{"x":-0.515,"y":0.139,"cluster":1},{"x":-0.565,"y":-0.063,"cluster":1},{"x":-0.535,"y":0.002,"cluster":1},{"x":-0.595,"y":-0.151,"cluster":1},{"x":-0.505,"y":0.093,"cluster":1},{"x":-0.555,"y":-0.021,"cluster":1},{"x":-0.59,"y":0.114,"cluster":1},{"x":-0.52,"y":-0.055,"cluster":1},{"x":-0.57,"y":0.172,"cluster":1},{"x":-0.54,"y":0.041,"cluster":1},
{"x":-0.475,"y":-0.039,"cluster":1},{"x":-0.425,"y":0.099,"cluster":1},{"x":-0.485,"y":-0.118,"cluster":1},{"x":-0.445,"y":0.017,"cluster":1},{"x":-0.415,"y":0.057,"cluster":1},{"x":-0.465,"y":-0.088,"cluster":1},{"x":-0.435,"y":0.133,"cluster":1},{"x":-0.495,"y":-0.006,"cluster":1},{"x":-0.405,"y":-0.176,"cluster":1},{"x":-0.455,"y":0.078,"cluster":1},{"x":-0.49,"y":-0.027,"cluster":1},{"x":-0.42,"y":0.032,"cluster":1},{"x":-0.46,"y":0.106,"cluster":1},{"x":-0.44,"y":-0.057,"cluster":1},{"x":-0.41,"y":0.046,"cluster":1},
{"x":-0.375,"y":0.064,"cluster":1},{"x":-0.325,"y":-0.014,"cluster":1},{"x":-0.385,"y":0.161,"cluster":1},{"x":-0.345,"y":-0.099,"cluster":1},{"x":-0.315,"y":-0.052,"cluster":1},{"x":-0.365,"y":0.037,"cluster":1},{"x":-0.335,"y":-0.072,"cluster":1},{"x":-0.395,"y":0.088,"cluster":1},{"x":-0.305,"y":0.013,"cluster":1},{"x":-0.355,"y":-0.132,"cluster":1},{"x":-0.39,"y":0.198,"cluster":1},{"x":-0.32,"y":-0.064,"cluster":1},{"x":-0.36,"y":0.045,"cluster":1},{"x":-0.34,"y":-0.003,"cluster":1},{"x":-0.31,"y":-0.092,"cluster":1},
{"x":-0.275,"y":-0.074,"cluster":1},{"x":-0.225,"y":0.022,"cluster":1},{"x":-0.285,"y":-0.011,"cluster":1},{"x":-0.245,"y":0.131,"cluster":1},{"x":-0.215,"y":-0.156,"cluster":1},{"x":-0.265,"y":0.059,"cluster":1},{"x":-0.235,"y":0.082,"cluster":1},{"x":-0.295,"y":-0.034,"cluster":1},{"x":-0.205,"y":-0.101,"cluster":1},{"x":-0.255,"y":0.167,"cluster":1},{"x":-0.29,"y":0.006,"cluster":1},{"x":-0.22,"y":-0.068,"cluster":1},{"x":-0.26,"y":-0.197,"cluster":1},{"x":-0.24,"y":0.047,"cluster":1},{"x":-0.21,"y":0.093,"cluster":1},{"x":-0.28,"y":-0.026,"cluster":1},
{"x":-0.175,"y":0.019,"cluster":1},{"x":-0.125,"y":-0.108,"cluster":1},{"x":-0.185,"y":0.064,"cluster":1},{"x":-0.145,"y":-0.046,"cluster":1},{"x":-0.115,"y":0.141,"cluster":1},{"x":-0.165,"y":-0.071,"cluster":1},{"x":-0.135,"y":0.004,"cluster":1},{"x":-0.195,"y":-0.163,"cluster":1},{"x":-0.105,"y":0.084,"cluster":1},{"x":-0.155,"y":-0.017,"cluster":1},{"x":-0.19,"y":0.117,"cluster":1},{"x":-0.12,"y":-0.054,"cluster":1},{"x":-0.16,"y":0.035,"cluster":1},{"x":-0.14,"y":-0.092,"cluster":1},{"x":-0.11,"y":0.176,"cluster":1},{"x":-0.18,"y":-0.031,"cluster":1},
{"x":-0.075,"y":-0.051,"cluster":1},{"x":-0.025,"y":0.092,"cluster":1},{"x":-0.085,"y":-0.124,"cluster":1},{"x":-0.045,"y":0.011,"cluster":1},{"x":-0.015,"y":0.053,"cluster":1},{"x":-0.065,"y":-0.086,"cluster":1},{"x":-0.035,"y":0.129,"cluster":1},{"x":-0.095,"y":-0.009,"cluster":1},{"x":-0.01,"y":-0.142,"cluster":1},{"x":-0.055,"y":0.071,"cluster":1},{"x":-0.09,"y":-0.035,"cluster":1},{"x":-0.02,"y":0.027,"cluster":1},{"x":-0.06,"y":0.102,"cluster":1},{"x":-0.04,"y":-0.063,"cluster":1},{"x":-0.03,"y":0.042,"cluster":1},{"x":-0.08,"y":-0.119,"cluster":1},
{"x":-0.788,"y":-0.036,"cluster":1},{"x":-0.752,"y":0.047,"cluster":1},{"x":-0.729,"y":-0.091,"cluster":1},{"x":-0.714,"y":0.108,"cluster":1},{"x":-0.771,"y":0.004,"cluster":1},{"x":-0.741,"y":-0.017,"cluster":1},
{"x":-0.694,"y":0.058,"cluster":1},{"x":-0.667,"y":-0.063,"cluster":1},{"x":-0.623,"y":0.012,"cluster":1},{"x":-0.684,"y":-0.028,"cluster":1},{"x":-0.646,"y":0.086,"cluster":1},{"x":-0.608,"y":-0.115,"cluster":1},
{"x":-0.584,"y":-0.009,"cluster":1},{"x":-0.557,"y":0.066,"cluster":1},{"x":-0.516,"y":-0.078,"cluster":1},{"x":-0.573,"y":0.021,"cluster":1},{"x":-0.531,"y":-0.046,"cluster":1},{"x":-0.593,"y":0.101,"cluster":1},
{"x":-0.484,"y":0.024,"cluster":1},{"x":-0.456,"y":-0.057,"cluster":1},{"x":-0.414,"y":0.082,"cluster":1},{"x":-0.473,"y":-0.102,"cluster":1},{"x":-0.432,"y":-0.013,"cluster":1},{"x":-0.402,"y":0.043,"cluster":1},
{"x":-0.396,"y":-0.031,"cluster":1},{"x":-0.354,"y":0.056,"cluster":1},{"x":-0.326,"y":0.001,"cluster":1},{"x":-0.373,"y":-0.088,"cluster":1},{"x":-0.338,"y":0.121,"cluster":1},{"x":-0.304,"y":-0.019,"cluster":1},
{"x":-0.293,"y":0.039,"cluster":1},{"x":-0.264,"y":-0.049,"cluster":1},{"x":-0.231,"y":0.094,"cluster":1},{"x":-0.281,"y":0.014,"cluster":1},{"x":-0.244,"y":-0.121,"cluster":1},{"x":-0.216,"y":-0.037,"cluster":1},
{"x":-0.194,"y":-0.073,"cluster":1},{"x":-0.152,"y":0.053,"cluster":1},{"x":-0.127,"y":-0.018,"cluster":1},{"x":-0.173,"y":0.077,"cluster":1},{"x":-0.138,"y":0.016,"cluster":1},{"x":-0.103,"y":-0.059,"cluster":1},
{"x":-0.096,"y":0.008,"cluster":1},{"x":-0.054,"y":-0.071,"cluster":1},{"x":-0.027,"y":0.063,"cluster":1},{"x":-0.073,"y":-0.027,"cluster":1},{"x":-0.044,"y":0.118,"cluster":1},{"x":-0.008,"y":-0.006,"cluster":1},
{"x":0.016,"y":0.022,"cluster":2},{"x":0.043,"y":-0.038,"cluster":2},{"x":0.084,"y":0.071,"cluster":2},{"x":0.029,"y":-0.093,"cluster":2},{"x":0.067,"y":0.037,"cluster":2},{"x":0.097,"y":-0.017,"cluster":2},
{"x":0.104,"y":-0.062,"cluster":2},{"x":0.146,"y":0.029,"cluster":2},{"x":0.173,"y":-0.014,"cluster":2},{"x":0.127,"y":0.116,"cluster":2},{"x":0.154,"y":-0.081,"cluster":2},{"x":0.188,"y":0.052,"cluster":2},
{"x":0.203,"y":0.043,"cluster":2},{"x":0.247,"y":-0.024,"cluster":2},{"x":0.274,"y":-0.071,"cluster":2},{"x":0.226,"y":0.068,"cluster":2},{"x":0.252,"y":0.007,"cluster":2},{"x":0.296,"y":-0.109,"cluster":2},
{"x":0.314,"y":-0.003,"cluster":2},{"x":0.342,"y":0.061,"cluster":2},{"x":0.386,"y":-0.058,"cluster":2},{"x":0.321,"y":0.022,"cluster":2},{"x":0.367,"y":-0.126,"cluster":2},{"x":0.393,"y":0.087,"cluster":2},
{"x":0.406,"y":0.014,"cluster":2},{"x":0.447,"y":-0.067,"cluster":2},{"x":0.473,"y":0.073,"cluster":2},{"x":0.428,"y":-0.031,"cluster":2},{"x":0.464,"y":0.042,"cluster":2},{"x":0.496,"y":-0.092,"cluster":2},
{"x":0.517,"y":-0.049,"cluster":2},{"x":0.544,"y":0.035,"cluster":2},{"x":0.586,"y":-0.011,"cluster":2},{"x":0.522,"y":0.095,"cluster":2},{"x":0.566,"y":-0.076,"cluster":2},{"x":0.599,"y":0.013,"cluster":2},
{"x":0.604,"y":0.028,"cluster":2},{"x":0.647,"y":-0.041,"cluster":2},{"x":0.672,"y":0.062,"cluster":2},{"x":0.628,"y":-0.089,"cluster":2},{"x":0.651,"y":0.004,"cluster":2},{"x":0.697,"y":-0.023,"cluster":2},
{"x":0.702,"y":-0.013,"cluster":2},{"x":0.748,"y":0.047,"cluster":2},{"x":0.772,"y":-0.074,"cluster":2},{"x":0.726,"y":0.019,"cluster":2},{"x":0.753,"y":-0.038,"cluster":2},{"x":0.788,"y":0.083,"cluster":2},
{"x":0.035,"y":-0.013,"cluster":2},{"x":0.085,"y":0.061,"cluster":2},{"x":0.015,"y":-0.089,"cluster":2},{"x":0.065,"y":0.124,"cluster":2},{"x":0.095,"y":0.016,"cluster":2},{"x":0.045,"y":-0.052,"cluster":2},{"x":0.075,"y":0.081,"cluster":2},{"x":0.025,"y":-0.121,"cluster":2},{"x":0.09,"y":0.043,"cluster":2},{"x":0.055,"y":-0.034,"cluster":2},{"x":0.01,"y":0.107,"cluster":2},{"x":0.07,"y":-0.071,"cluster":2},{"x":0.04,"y":0.001,"cluster":2},{"x":0.06,"y":0.148,"cluster":2},{"x":0.08,"y":-0.104,"cluster":2},{"x":0.02,"y":0.029,"cluster":2},
{"x":0.135,"y":0.047,"cluster":2},{"x":0.185,"y":-0.078,"cluster":2},{"x":0.115,"y":0.098,"cluster":2},{"x":0.165,"y":-0.027,"cluster":2},{"x":0.195,"y":-0.143,"cluster":2},{"x":0.145,"y":0.066,"cluster":2},{"x":0.175,"y":0.009,"cluster":2},{"x":0.125,"y":-0.059,"cluster":2},{"x":0.19,"y":0.176,"cluster":2},{"x":0.155,"y":-0.094,"cluster":2},{"x":0.11,"y":0.036,"cluster":2},{"x":0.17,"y":-0.018,"cluster":2},{"x":0.14,"y":0.113,"cluster":2},{"x":0.16,"y":-0.131,"cluster":2},{"x":0.18,"y":-0.044,"cluster":2},{"x":0.12,"y":0.072,"cluster":2},
{"x":0.235,"y":-0.048,"cluster":2},{"x":0.285,"y":0.087,"cluster":2},{"x":0.215,"y":-0.003,"cluster":2},{"x":0.265,"y":-0.172,"cluster":2},{"x":0.295,"y":0.131,"cluster":2},{"x":0.245,"y":0.018,"cluster":2},{"x":0.275,"y":-0.064,"cluster":2},{"x":0.225,"y":0.059,"cluster":2},{"x":0.29,"y":-0.109,"cluster":2},{"x":0.255,"y":0.006,"cluster":2},{"x":0.21,"y":0.146,"cluster":2},{"x":0.27,"y":-0.029,"cluster":2},{"x":0.24,"y":-0.086,"cluster":2},{"x":0.26,"y":0.093,"cluster":2},{"x":0.28,"y":0.031,"cluster":2},{"x":0.22,"y":-0.036,"cluster":2},
{"x":0.335,"y":0.076,"cluster":2},{"x":0.385,"y":-0.041,"cluster":2},{"x":0.315,"y":0.012,"cluster":2},{"x":0.365,"y":-0.117,"cluster":2},{"x":0.395,"y":0.119,"cluster":2},{"x":0.345,"y":-0.054,"cluster":2},{"x":0.375,"y":0.051,"cluster":2},{"x":0.325,"y":-0.006,"cluster":2},{"x":0.39,"y":-0.163,"cluster":2},{"x":0.355,"y":0.104,"cluster":2},{"x":0.31,"y":-0.075,"cluster":2},{"x":0.37,"y":0.038,"cluster":2},{"x":0.34,"y":-0.023,"cluster":2},{"x":0.36,"y":0.161,"cluster":2},{"x":0.38,"y":-0.098,"cluster":2},
{"x":0.435,"y":-0.062,"cluster":2},{"x":0.485,"y":0.025,"cluster":2},{"x":0.415,"y":0.089,"cluster":2},{"x":0.465,"y":-0.032,"cluster":2},{"x":0.495,"y":-0.129,"cluster":2},{"x":0.445,"y":0.048,"cluster":2},{"x":0.475,"y":0.137,"cluster":2},{"x":0.425,"y":-0.085,"cluster":2},{"x":0.49,"y":0.004,"cluster":2},{"x":0.455,"y":-0.047,"cluster":2},{"x":0.41,"y":0.068,"cluster":2},{"x":0.47,"y":-0.104,"cluster":2},{"x":0.44,"y":0.118,"cluster":2},{"x":0.46,"y":-0.016,"cluster":2},{"x":0.48,"y":0.033,"cluster":2},
{"x":0.535,"y":0.013,"cluster":2},{"x":0.585,"y":-0.069,"cluster":2},{"x":0.515,"y":0.074,"cluster":2},{"x":0.565,"y":-0.143,"cluster":2},{"x":0.595,"y":-0.008,"cluster":2},{"x":0.545,"y":0.103,"cluster":2},{"x":0.575,"y":-0.038,"cluster":2},{"x":0.525,"y":0.041,"cluster":2},{"x":0.59,"y":-0.082,"cluster":2},{"x":0.555,"y":0.152,"cluster":2},{"x":0.51,"y":-0.024,"cluster":2},{"x":0.57,"y":0.055,"cluster":2},{"x":0.54,"y":-0.112,"cluster":2},{"x":0.56,"y":0.022,"cluster":2},
{"x":0.635,"y":-0.028,"cluster":2},{"x":0.685,"y":0.084,"cluster":2},{"x":0.615,"y":-0.096,"cluster":2},{"x":0.665,"y":0.037,"cluster":2},{"x":0.695,"y":-0.053,"cluster":2},{"x":0.645,"y":0.114,"cluster":2},{"x":0.675,"y":-0.009,"cluster":2},{"x":0.625,"y":-0.135,"cluster":2},{"x":0.69,"y":0.062,"cluster":2},{"x":0.655,"y":-0.071,"cluster":2},{"x":0.61,"y":0.008,"cluster":2},{"x":0.67,"y":0.141,"cluster":2},{"x":0.64,"y":-0.044,"cluster":2},
{"x":0.735,"y":0.049,"cluster":2},{"x":0.785,"y":-0.081,"cluster":2},{"x":0.715,"y":-0.017,"cluster":2},{"x":0.765,"y":0.107,"cluster":2},{"x":0.795,"y":-0.122,"cluster":2},{"x":0.745,"y":0.023,"cluster":2},{"x":0.775,"y":-0.043,"cluster":2},{"x":0.725,"y":0.071,"cluster":2},{"x":0.79,"y":-0.064,"cluster":2},{"x":0.755,"y":0.002,"cluster":2},{"x":0.71,"y":-0.155,"cluster":2},{"x":0.77,"y":0.093,"cluster":2},
{"x":0.835,"y":-0.039,"cluster":2},{"x":0.885,"y":0.046,"cluster":2},{"x":0.815,"y":-0.104,"cluster":2},{"x":0.865,"y":0.077,"cluster":2},{"x":0.895,"y":-0.007,"cluster":2},{"x":0.845,"y":-0.069,"cluster":2},{"x":0.875,"y":0.121,"cluster":2},{"x":0.825,"y":0.015,"cluster":2},{"x":0.89,"y":-0.131,"cluster":2},{"x":0.855,"y":-0.026,"cluster":2},{"x":0.81,"y":0.058,"cluster":2},
{"x":0.935,"y":0.031,"cluster":2},{"x":0.985,"y":-0.087,"cluster":2},{"x":0.915,"y":-0.022,"cluster":2},{"x":0.965,"y":0.091,"cluster":2},{"x":0.99,"y":-0.148,"cluster":2},{"x":0.945,"y":0.017,"cluster":2},{"x":0.975,"y":-0.055,"cluster":2},{"x":0.925,"y":0.064,"cluster":2},{"x":0.995,"y":-0.012,"cluster":2},{"x":0.955,"y":-0.099,"cluster":2},
{"x":1.035,"y":-0.044,"cluster":2},{"x":1.085,"y":0.075,"cluster":2},{"x":1.015,"y":0.008,"cluster":2},{"x":1.065,"y":-0.108,"cluster":2},{"x":1.09,"y":0.042,"cluster":2},{"x":1.045,"y":-0.073,"cluster":2},{"x":1.075,"y":0.112,"cluster":2},{"x":1.025,"y":-0.019,"cluster":2},{"x":1.095,"y":-0.133,"cluster":2},
{"x":1.135,"y":0.023,"cluster":2},{"x":1.185,"y":-0.058,"cluster":2},{"x":1.115,"y":0.087,"cluster":2},{"x":1.165,"y":-0.025,"cluster":2},{"x":1.19,"y":-0.099,"cluster":2},{"x":1.145,"y":0.051,"cluster":2},{"x":1.175,"y":-0.162,"cluster":2},{"x":1.125,"y":-0.004,"cluster":2},
{"x":1.235,"y":-0.033,"cluster":2},{"x":1.285,"y":0.061,"cluster":2},{"x":1.215,"y":-0.086,"cluster":2},{"x":1.265,"y":0.026,"cluster":2},{"x":1.29,"y":-0.018,"cluster":2},{"x":1.245,"y":-0.127,"cluster":2},{"x":1.275,"y":0.098,"cluster":2},
{"x":1.335,"y":0.036,"cluster":2},{"x":1.385,"y":-0.049,"cluster":2},{"x":1.315,"y":0.083,"cluster":2},{"x":1.365,"y":-0.094,"cluster":2},{"x":1.39,"y":0.011,"cluster":2},{"x":1.345,"y":-0.027,"cluster":2},
{"x":1.225,"y":0.118,"cluster":2},{"x":1.305,"y":-0.162,"cluster":2},{"x":1.355,"y":0.127,"cluster":2},{"x":1.275,"y":-0.059,"cluster":2},{"x":1.395,"y":0.049,"cluster":2},{"x":1.325,"y":-0.072,"cluster":2},
{"x":1.81,"y":0.16,"cluster":2},{"x":2.03,"y":0.127,"cluster":2},{"x":2.0,"y":0.081,"cluster":2},{"x":1.53,"y":0.109,"cluster":2},{"x":1.57,"y":0.093,"cluster":2},{"x":1.73,"y":0.095,"cluster":2},{"x":1.81,"y":0.097,"cluster":2},{"x":1.64,"y":0.082,"cluster":2},{"x":1.71,"y":0.06,"cluster":2},{"x":1.61,"y":0.064,"cluster":2},{"x":1.57,"y":0.058,"cluster":2},{"x":1.64,"y":0.05,"cluster":2},{"x":1.7,"y":0.038,"cluster":2},{"x":1.53,"y":0.038,"cluster":2},{"x":1.45,"y":0.051,"cluster":2},{"x":1.41,"y":0.058,"cluster":2},{"x":1.97,"y":0.045,"cluster":2},{"x":2.16,"y":0.027,"cluster":2},{"x":1.8,"y":0.019,"cluster":2},{"x":1.93,"y":0.018,"cluster":2},{"x":2.56,"y":0.044,"cluster":2},{"x":2.94,"y":-0.026,"cluster":2},{"x":1.43,"y":0.019,"cluster":2},{"x":1.49,"y":0.013,"cluster":2},{"x":1.55,"y":0.015,"cluster":2},{"x":1.62,"y":0.014,"cluster":2},{"x":1.52,"y":-0.004,"cluster":2},{"x":1.65,"y":-0.005,"cluster":2},{"x":1.78,"y":-0.014,"cluster":2},{"x":1.47,"y":-0.038,"cluster":2},{"x":1.53,"y":-0.03,"cluster":2},{"x":1.64,"y":-0.03,"cluster":2},{"x":1.98,"y":-0.028,"cluster":2},{"x":2.13,"y":-0.035,"cluster":2},{"x":2.29,"y":-0.024,"cluster":2},{"x":2.34,"y":-0.017,"cluster":2},{"x":2.37,"y":-0.012,"cluster":2},{"x":2.53,"y":-0.022,"cluster":2},{"x":1.7,"y":-0.055,"cluster":2},{"x":1.96,"y":-0.05,"cluster":2},{"x":1.57,"y":-0.058,"cluster":2},{"x":1.55,"y":-0.062,"cluster":2},{"x":1.81,"y":-0.065,"cluster":2},{"x":1.83,"y":-0.067,"cluster":2},{"x":1.66,"y":-0.082,"cluster":2},{"x":1.68,"y":-0.082,"cluster":2},{"x":2.33,"y":-0.07,"cluster":2},{"x":2.43,"y":-0.092,"cluster":2},{"x":1.53,"y":-0.103,"cluster":2},{"x":1.41,"y":-0.097,"cluster":2},{"x":1.56,"y":-0.118,"cluster":2},{"x":1.43,"y":-0.123,"cluster":2},{"x":1.7,"y":-0.126,"cluster":2},{"x":2.07,"y":-0.126,"cluster":2},{"x":2.06,"y":-0.133,"cluster":2},{"x":2.32,"y":-0.118,"cluster":2},{"x":2.32,"y":-0.132,"cluster":2},{"x":2.32,"y":-0.136,"cluster":2},{"x":2.7,"y":-0.119,"cluster":2},{"x":2.69,"y":-0.154,"cluster":2},{"x":1.58,"y":-0.149,"cluster":2},{"x":1.71,"y":-0.155,"cluster":2},{"x":2.09,"y":-0.177,"cluster":2},{"x":1.47,"y":-0.192,"cluster":2},{"x":2.55,"y":-0.199,"cluster":2},{"x":1.97,"y":-0.312,"cluster":2},
{"x":0.05,"y":0.286,"cluster":2},{"x":0.37,"y":0.289,"cluster":2},{"x":0.21,"y":0.238,"cluster":2},{"x":0.14,"y":0.212,"cluster":2},{"x":0.92,"y":0.225,"cluster":2},{"x":0.89,"y":0.221,"cluster":2},{"x":1.26,"y":0.221,"cluster":2},{"x":0.69,"y":0.193,"cluster":2},{"x":0.57,"y":0.197,"cluster":2},{"x":0.03,"y":0.193,"cluster":2},{"x":0.67,"y":-0.233,"cluster":2},{"x":0.85,"y":-0.237,"cluster":2},{"x":0.91,"y":-0.236,"cluster":2},{"x":1.05,"y":-0.241,"cluster":2},{"x":0.27,"y":-0.224,"cluster":2},{"x":0.23,"y":-0.205,"cluster":2},{"x":1.46,"y":-0.196,"cluster":2},{"x":0.37,"y":-0.19,"cluster":2},{"x":0.41,"y":-0.192,"cluster":2},{"x":0.0,"y":-0.17,"cluster":2},{"x":0.11,"y":-0.194,"cluster":2},{"x":0.08,"y":-0.346,"cluster":2}
]},
"mark": {"type": "point", "shape": "circle", "filled": false, "size": 13, "strokeWidth": 1.2, "opacity": 1},
"encoding": {
"x": {"field": "x", "type": "quantitative", "scale": {"domain": [-4, 4], "nice": false, "zero": false},
 "axis": {"title": null, "grid": false, "values": [-4,-3,-2,-1,0,1,2,3,4], "format": "~g", "tickSize": -5, "labelPadding": 13, "domainColor": "#333333", "tickColor": "#333333", "labelColor": "#000000", "labelFont": "Liberation Sans", "labelFontSize": 13, "labelFlush": false, "labelOverlap": false, "labelBound": false}},
"y": {"field": "y", "type": "quantitative", "scale": {"domain": [-0.4, 1.4], "nice": false, "zero": false},
 "axis": {"title": null, "grid": false, "values": [-0.4,-0.2,0,0.2,0.4,0.6,0.8,1,1.2,1.4], "format": "~g", "tickSize": -5, "labelPadding": 9, "domainColor": "#333333", "tickColor": "#333333", "labelColor": "#000000", "labelFont": "Liberation Sans", "labelFontSize": 13, "labelFlush": false, "labelOverlap": false, "labelBound": false}},
"color": {"field": "cluster", "type": "nominal", "scale": {"domain": [1, 2], "range": ["#800000", "#00008f"]}, "legend": null}
}
}
